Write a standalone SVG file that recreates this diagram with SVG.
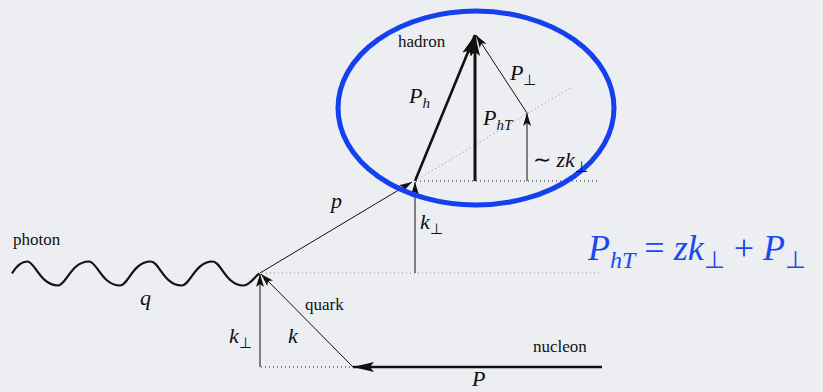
<svg xmlns="http://www.w3.org/2000/svg" width="823" height="392" viewBox="0 0 823 392">
<defs>
<marker id="ah" markerUnits="userSpaceOnUse" markerWidth="14" markerHeight="10" refX="13" refY="4" orient="auto">
<path d="M0,0 L13,4 L0,8 L3,4 z" fill="#111"/>
</marker>
<marker id="ahb" markerUnits="userSpaceOnUse" markerWidth="22" markerHeight="12" refX="21" refY="5" orient="auto">
<path d="M0,0 L21,5 L0,10 L4,5 z" fill="#111"/>
</marker>
</defs>
<rect width="823" height="392" fill="#eceef1"/>
<g id="connectors" fill="none" stroke="#111">
<path id="photon-wave" stroke-width="2.2" d="M12,273.5 C17,265 22,261.5 27.4,261.5 C35,261.5 40,285.5 58.3,285.5 C66,285.5 71,261.5 89.1,261.5 C97,261.5 102,285.5 120,285.5 C128,285.5 133,261.5 150.9,261.5 C159,261.5 164,285.5 181.7,285.5 C190,285.5 195,261.5 212.6,261.5 C221,261.5 226,285.5 243.5,285.5 C250,285.5 255,276 259.5,273.5"/>
<g stroke-width="1" stroke-dasharray="1 3">
<line stroke="#888" x1="262" y1="273" x2="600" y2="273"/>
<line stroke="#222" x1="416" y1="181" x2="600" y2="181"/>
<line stroke="#888" x1="418" y1="179" x2="572" y2="87"/>
<line stroke="#222" x1="261" y1="367" x2="352" y2="367"/>
</g>
<g stroke-width="1" marker-end="url(#ah)">
<line x1="260" y1="273" x2="412" y2="182"/>
<line x1="415" y1="273" x2="415" y2="182"/>
<line x1="260" y1="367" x2="260" y2="274"/>
<line x1="353" y1="367" x2="261" y2="274"/>
<line x1="527" y1="113" x2="476" y2="35"/>
<line x1="527" y1="181" x2="527" y2="113"/>
</g>
<g stroke-width="2.6" marker-end="url(#ahb)">
<line x1="602" y1="367" x2="353" y2="367"/>
<line x1="415" y1="181" x2="475" y2="35"/>
<line stroke-width="3" x1="475" y1="181" x2="475" y2="35"/>
</g>
</g>
<g id="hadron-ellipse">
<ellipse cx="476" cy="108" rx="138" ry="97" fill="none" stroke="#1440f0" stroke-width="5"/>
</g>
<g id="labels">
<text font-family="Times New Roman" fill="#111" font-size="17" x="398" y="47">hadron</text>
<text font-family="Times New Roman" fill="#111" font-size="22" font-style="italic" x="409" y="103">P<tspan font-size="15" dy="5">h</tspan></text>
<text font-family="Times New Roman" fill="#111" font-size="22" font-style="italic" x="510" y="80">P<tspan font-size="15" font-style="normal" dy="5">⊥</tspan></text>
<text font-family="Times New Roman" fill="#111" font-size="22" font-style="italic" x="483" y="125">P<tspan font-size="15" dy="5">hT</tspan></text>
<text font-family="Times New Roman" fill="#111" font-size="22" font-style="italic" x="533" y="167"><tspan font-style="normal">∼</tspan> zk<tspan font-size="15" font-style="normal" dy="5">⊥</tspan></text>
<text font-family="Times New Roman" fill="#111" font-size="22" font-style="italic" x="331" y="208">p</text>
<text font-family="Times New Roman" fill="#111" font-size="22" font-style="italic" x="420" y="229">k<tspan font-size="15" font-style="normal" dy="5">⊥</tspan></text>
<text font-family="Times New Roman" fill="#111" font-size="17" x="13" y="245">photon</text>
<text font-family="Times New Roman" fill="#111" font-size="22" font-style="italic" x="140" y="305">q</text>
<text font-family="Times New Roman" fill="#111" font-size="17" x="305" y="310">quark</text>
<text font-family="Times New Roman" fill="#111" font-size="22" font-style="italic" x="229" y="343">k<tspan font-size="15" font-style="normal" dy="5">⊥</tspan></text>
<text font-family="Times New Roman" fill="#111" font-size="22" font-style="italic" x="288" y="343">k</text>
<text font-family="Times New Roman" fill="#111" font-size="17" x="533" y="352">nucleon</text>
<text font-family="Times New Roman" fill="#111" font-size="22" font-style="italic" x="472" y="386">P</text>
</g>
<g id="formula">
<text font-family="Times New Roman" fill="#1a48f2" font-size="36" font-style="italic" x="588" y="260">P<tspan font-size="24" dy="8">hT</tspan><tspan dy="-8" font-style="normal"> = </tspan>zk<tspan font-size="24" dy="8" font-style="normal">⊥</tspan><tspan dy="-8" font-style="normal"> + </tspan>P<tspan font-size="24" dy="8" font-style="normal">⊥</tspan></text>
</g>
</svg>
